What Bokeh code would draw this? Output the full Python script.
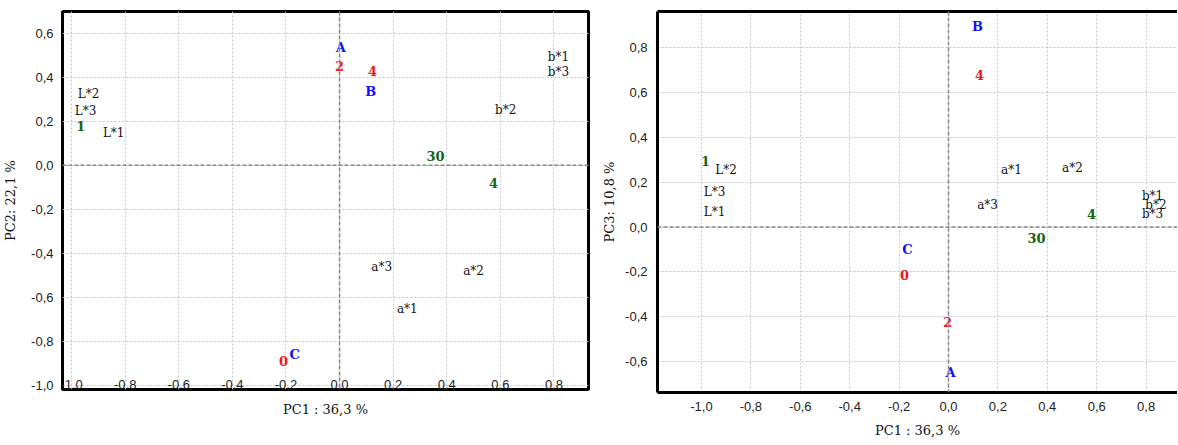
from bokeh.plotting import figure
from bokeh.layouts import row
from bokeh.models import ColumnDataSource, FixedTicker, CustomJSTickFormatter, Span, LinearAxis, Range1d
from bokeh.core.properties import value
from bokeh.embed import file_html
from bokeh.resources import INLINE

# ---------------- data ----------------
x_ticks = [-1.0, -0.8, -0.6, -0.4, -0.2, 0.0, 0.2, 0.4, 0.6, 0.8]
y_ticks_left = [-1.0, -0.8, -0.6, -0.4, -0.2, 0.0, 0.2, 0.4, 0.6]
y_ticks_right = [-0.6, -0.4, -0.2, 0.0, 0.2, 0.4, 0.6, 0.8]

var_labels = ["L*1", "L*2", "L*3", "a*1", "a*2", "a*3", "b*1", "b*2", "b*3"]
# panel 1: PC1 vs PC2
var_pc1_a = [-0.843, -0.937, -0.948, 0.253, 0.500, 0.157, 0.817, 0.620, 0.817]
var_pc2 = [0.148, 0.326, 0.248, -0.652, -0.480, -0.460, 0.494, 0.253, 0.426]
# panel 2: PC1 vs PC3
var_pc1_b = [-0.947, -0.900, -0.947, 0.255, 0.502, 0.158, 0.826, 0.840, 0.826]
var_pc3 = [0.069, 0.256, 0.154, 0.256, 0.265, 0.096, 0.136, 0.096, 0.056]

letter_labels = ["A", "B", "C"]
letter_pc1_a = [0.005, 0.116, -0.168]
letter_pc2 = [0.535, 0.335, -0.861]
letter_pc1_b = [0.008, 0.117, -0.166]
letter_pc3 = [-0.648, 0.893, -0.100]

red_labels = ["0", "2", "4"]
red_pc1_a = [-0.209, 0.000, 0.123]
red_pc2 = [-0.888, 0.450, 0.430]
red_pc1_b = [-0.178, -0.004, 0.126]
red_pc3 = [-0.212, -0.425, 0.679]

green_labels = ["1", "30", "4"]
green_pc1_a = [-0.966, 0.358, 0.575]
green_pc2 = [0.180, 0.040, -0.080]
green_pc1_b = [-0.984, 0.356, 0.579]
green_pc3 = [0.296, -0.047, 0.056]

# ---------------- style ----------------
SERIF = "DejaVu Serif"
SANS = "Liberation Sans"
COLORS = {"letters": "#1010ff", "red": "#f01818", "green": "#166416"}

fmt_code = "var t = Math.abs(tick) < 1e-9 ? 0 : tick; return t.toFixed(1).replace('.', ',');"


def style_axes(p):
    for ax in p.xaxis + p.yaxis:
        ax.formatter = CustomJSTickFormatter(code=fmt_code)
        ax.major_label_text_font = SANS
        ax.major_label_text_font_size = "13px"
        ax.major_label_text_color = "#222222"
        ax.major_tick_line_color = None
        ax.minor_tick_line_color = None
        ax.axis_label_text_font = SERIF
        ax.axis_label_text_font_size = "13px"
        ax.axis_label_text_font_style = "normal"
        ax.axis_label_text_color = "#111111"
    p.grid.grid_line_color = "#c4c4c4"
    p.grid.grid_line_dash = "2 2"
    p.grid.grid_line_width = 1
    p.add_layout(Span(location=0, dimension="height", line_color="#888888",
                      line_dash="4 2", line_width=1.5))
    p.add_layout(Span(location=0, dimension="width", line_color="#888888",
                      line_dash="4 2", line_width=1.5))


def add_labels(p, xs_var, ys_var, groups):
    src = ColumnDataSource(dict(x=xs_var, y=ys_var, t=var_labels))
    p.text(x="x", y="y", text="t", source=src, text_align="center",
           text_baseline="middle", text_font=value(SERIF),
           text_font_size="12px", text_color="#111111")
    for key, labels, xs, ys in groups:
        s = ColumnDataSource(dict(x=xs, y=ys, t=labels))
        p.text(x="x", y="y", text="t", source=s, text_align="center",
               text_baseline="middle", text_font=value(SERIF),
               text_font_size="13px", text_font_style="bold",
               text_color=COLORS[key])


# ---------------- left panel ----------------
p1 = figure(frame_width=526, frame_height=378,
            x_range=Range1d(-1.034, 0.929), y_range=Range1d(-1.019, 0.699),
            output_backend="svg", toolbar_location=None,
            min_border_left=60, min_border_right=11, min_border_top=8,
            min_border_bottom=30)
p1.outline_line_color = "black"
p1.outline_line_width = 3
p1.xaxis.ticker = FixedTicker(ticks=x_ticks)
p1.yaxis.ticker = FixedTicker(ticks=y_ticks_left)
style_axes(p1)
p1.xaxis.axis_line_color = None
p1.yaxis.axis_line_color = None
p1.xaxis.major_label_standoff = -16
p1.xaxis.axis_label = "PC1 : 36,3 %"
p1.xaxis.axis_label_standoff = 10
p1.yaxis.axis_label = "PC2: 22,1 %"
p1.yaxis.major_label_standoff = 3
p1.yaxis.axis_label_standoff = 10
add_labels(p1, var_pc1_a, var_pc2, [
    ("letters", letter_labels, letter_pc1_a, letter_pc2),
    ("red", red_labels, red_pc1_a, red_pc2),
    ("green", green_labels, green_pc1_a, green_pc2),
])

# ---------------- right panel ----------------
p2 = figure(frame_width=520, frame_height=381,
            x_range=Range1d(-1.178, 0.927), y_range=Range1d(-0.737, 0.960),
            output_backend="svg", toolbar_location=None,
            min_border_left=53, min_border_right=0, min_border_top=11,
            min_border_bottom=30)
p2.outline_line_color = None
p2.xaxis.ticker = FixedTicker(ticks=x_ticks)
p2.yaxis.ticker = FixedTicker(ticks=y_ticks_right)
style_axes(p2)
for ax in p2.xaxis + p2.yaxis:
    ax.axis_line_color = "black"
    ax.axis_line_width = 3
p2.xaxis.major_label_standoff = 3
p2.xaxis.axis_label = "PC1 : 36,3 %"
p2.xaxis.axis_label_standoff = 9
p2.yaxis.axis_label = "PC3: 10,8 %"
p2.yaxis.major_label_standoff = 4
p2.yaxis.axis_label_standoff = 5
top_ax = LinearAxis(axis_line_color="black", axis_line_width=3,
                    major_tick_line_color=None, minor_tick_line_color=None,
                    major_label_text_font_size="0px", major_label_standoff=0,
                    ticker=FixedTicker(ticks=[]))
p2.add_layout(top_ax, "above")
add_labels(p2, var_pc1_b, var_pc3, [
    ("letters", letter_labels, letter_pc1_b, letter_pc3),
    ("red", red_labels, red_pc1_b, red_pc3),
    ("green", green_labels, green_pc1_b, green_pc3),
])

layout = row(p1, p2)
open("out.html", "w").write(file_html(layout, INLINE))
